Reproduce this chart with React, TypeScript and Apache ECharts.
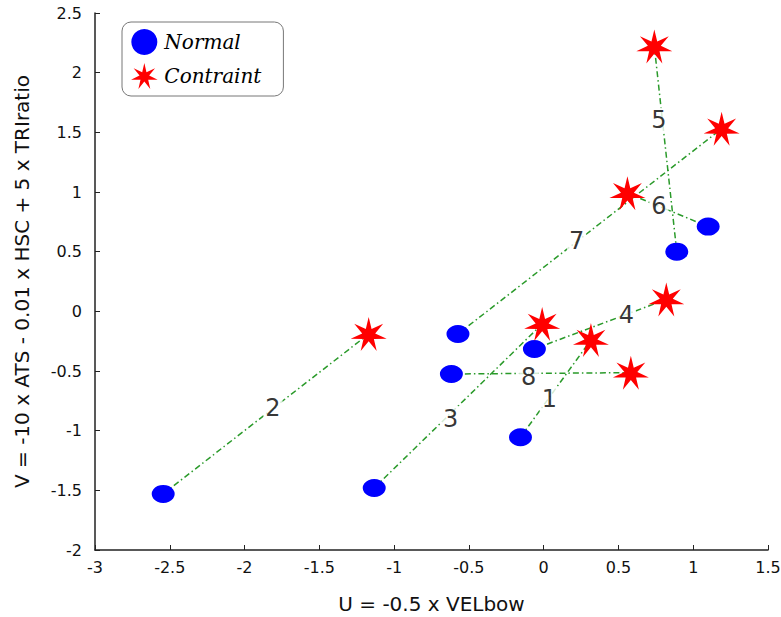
import React, { useEffect, useRef } from "react";
import * as echarts from "echarts";

const pairIds = ["1", "2", "3", "4", "5", "6", "7", "8"];
const normalX = [-0.155, -2.544, -1.133, -0.062, 0.89, 1.1, -0.573, -0.617];
const normalY = [-1.055, -1.53, -1.48, -0.315, 0.5, 0.71, -0.19, -0.525];
const constraintX = [0.316, -1.17, -0.01, 0.82, 0.74, 0.56, 1.19, 0.583];
const constraintY = [-0.24, -0.19, -0.106, 0.1, 2.22, 0.99, 1.53, -0.514];
const labelX = [0.038, -1.81, -0.622, 0.553, 0.77, 0.77, 0.22, -0.1];
const labelY = [-0.737, -0.81, -0.904, -0.03, 1.6, 0.88, 0.59, -0.553];

function starPath(n: number, ro: number, ri: number): string {
  const pts: string[] = [];
  for (let i = 0; i < n * 2; i++) {
    const r = i % 2 === 0 ? ro : ri;
    const a = -Math.PI / 2 + (i * Math.PI) / n;
    pts.push((50 + r * Math.cos(a)).toFixed(2) + " " + (50 + r * Math.sin(a)).toFixed(2));
  }
  return "path://M" + pts.join(" L") + " Z";
}

const STAR = starPath(7, 50, 18);

export default function App() {
  const ref = useRef<HTMLDivElement>(null);
  useEffect(() => {
    if (!ref.current) return;
    const chart = echarts.init(ref.current, undefined, { renderer: "svg" });
    const font = "DejaVu Sans";
    const option: any = {
      animation: false,
      backgroundColor: "#ffffff",
      grid: { left: 95, right: 13, top: 13, bottom: 67, containLabel: false, outerBoundsMode: "none" },
      legend: {
        left: 122,
        top: 22,
        orient: "vertical",
        borderColor: "#777",
        borderWidth: 1,
        borderRadius: 9,
        padding: [7, 22, 7, 9],
        itemGap: 8,
        itemWidth: 30,
        itemHeight: 26,
        textStyle: { fontFamily: "DejaVu Serif", fontStyle: "italic", fontSize: 20, color: "#000" },
        data: [
          { name: "Normal", icon: "circle" },
          { name: "Contraint", icon: STAR },
        ],
      },
      xAxis: {
        type: "value",
        min: -3,
        max: 1.5,
        interval: 0.5,
        name: "U = -0.5 x VELbow",
        nameLocation: "middle",
        nameGap: 44,
        nameTextStyle: { fontFamily: font, fontSize: 20, color: "#111" },
        splitLine: { show: false },
        axisLine: { onZero: false, lineStyle: { color: "#222", width: 1.5 } },
        axisTick: { inside: true, length: 5, lineStyle: { color: "#222" } },
        axisLabel: { fontFamily: font, fontSize: 16, color: "#111", margin: 9 },
      },
      yAxis: {
        type: "value",
        min: -2,
        max: 2.5,
        interval: 0.5,
        name: "V = -10 x ATS - 0.01 x HSC + 5 x TRIratio",
        nameLocation: "middle",
        nameGap: 63,
        nameTextStyle: { fontFamily: font, fontSize: 20, color: "#111" },
        splitLine: { show: false },
        axisLine: { onZero: false, lineStyle: { color: "#222", width: 1.5 } },
        axisTick: { inside: true, length: 5, lineStyle: { color: "#222" } },
        axisLabel: { fontFamily: font, fontSize: 16, color: "#111", margin: 13 },
      },
      series: [
        {
          type: "lines",
          coordinateSystem: "cartesian2d",
          silent: true,
          z: 1,
          lineStyle: { color: "#2a9a2a", width: 1.5, type: [6, 3, 1.5, 3], opacity: 1 },
          data: pairIds.map((_, i) => ({
            coords: [
              [normalX[i], normalY[i]],
              [constraintX[i], constraintY[i]],
            ],
          })),
        },
        {
          type: "scatter",
          name: "Pair labels",
          symbolSize: 0,
          z: 2,
          silent: true,
          data: pairIds.map((id, i) => ({ value: [labelX[i], labelY[i]], name: id })),
          label: {
            show: true,
            position: "inside",
            formatter: (p: any) => p.name,
            fontFamily: font,
            fontSize: 24,
            color: "#000",
            backgroundColor: "#fff",
            padding: [1, 2],
          },
        },
        {
          type: "scatter",
          name: "Normal",
          symbol: "circle",
          symbolSize: [23, 18],
          z: 3,
          itemStyle: { color: "#0000ff", opacity: 1 },
          data: pairIds.map((_, i) => [normalX[i], normalY[i]]),
        },
        {
          type: "scatter",
          name: "Contraint",
          symbol: STAR,
          symbolSize: [36, 34],
          z: 3,
          itemStyle: { color: "#ff0000", opacity: 1 },
          data: pairIds.map((_, i) => [constraintX[i], constraintY[i]]),
        },
      ],
    };
    chart.setOption(option);
    return () => chart.dispose();
  }, []);
  return (
    <div
      ref={ref}
      style={{ position: "absolute", left: 0, top: 0, width: 781, height: 617 }}
    />
  );
}
